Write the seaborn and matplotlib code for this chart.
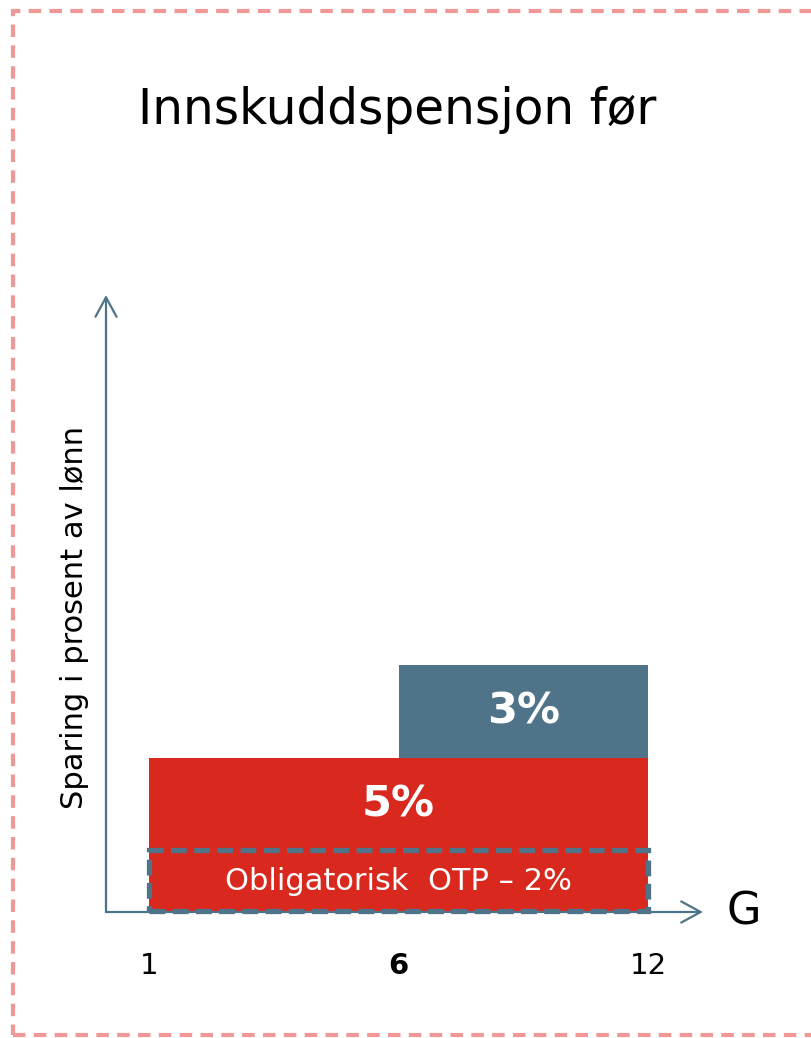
import pandas as pd
import matplotlib.pyplot as plt
import seaborn as sns
from matplotlib.patches import Rectangle, FancyArrowPatch

# data
g_labels = ["1", "6", "12"]            # G (grunnbeløp) ticks
red_pct = [5, 5]                        # 1-6 G and 6-12 G
blue_pct = [0, 3]                       # extra above 6 G
otp_pct = 2                             # obligatorisk OTP part of the red bar
red_label = "5%"
blue_label = "3%"
otp_label = "Obligatorisk  OTP \u2013 2%"

RED = "#D9281D"
BLUE = "#4F7489"
PINK = "#F09898"

sns.set_theme(style="white")
plt.rcParams["font.family"] = ["DejaVu Sans"]
plt.rcParams["text.color"] = "black"

# long table for histplot: one row per interval and layer
rows = []
for i, (r, b) in enumerate(zip(red_pct, blue_pct)):
    rows.append({"pos": i + 0.5, "layer": blue_label, "pct": b})
    rows.append({"pos": i + 0.5, "layer": red_label, "pct": r})
df = pd.DataFrame(rows)

fig = plt.figure(figsize=(8.12, 10.38), dpi=100)
ax = fig.add_axes([106 / 812, 126 / 1038, 597 / 812, 617 / 1038])

sns.histplot(
    data=df, x="pos", weights="pct", hue="layer",
    hue_order=[blue_label, red_label], multiple="stack",
    bins=[0, 1, 2], palette={red_label: RED, blue_label: BLUE},
    alpha=1, linewidth=0, legend=False, ax=ax,
)

ax.set_xlim(-0.172, 2.22)
ax.set_ylim(0, 20)
for s in ax.spines.values():
    s.set_visible(False)
ax.set_yticks([])
ax.set_xticks(range(len(g_labels)))
ax.set_xticklabels(g_labels, fontsize=21, color="black")
ax.get_xticklabels()[1].set_fontweight("bold")
ax.tick_params(axis="x", length=0, pad=29)
ax.set_xlabel("")
ax.set_ylabel("")
ax.text(-0.053, 0.478, "Sparing i prosent av lønn", transform=ax.transAxes,
        rotation=90, fontsize=22, ha="center", va="center")

# axis arrows
arrow_kw = dict(arrowstyle="->,head_length=0.7,head_width=0.38", mutation_scale=20,
                color=BLUE, lw=1.6, transform=ax.transAxes, clip_on=False,
                shrinkA=0, shrinkB=0)
ax.add_patch(FancyArrowPatch((0, 0), (1, 0), **arrow_kw))
ax.add_patch(FancyArrowPatch((0, 0), (0, 1), **arrow_kw))
ax.text(1.04, 0, "G", transform=ax.transAxes, fontsize=32, ha="left", va="center")

# dashed box around the mandatory part
ax.add_patch(Rectangle((0, 0.03), 2, otp_pct - 0.03, fill=False, edgecolor=BLUE,
                       lw=3.8, ls=(0, (3, 1.4)), clip_on=False, zorder=3))
ax.text(1, otp_pct / 2, otp_label, color="white", fontsize=22, ha="center", va="center")

# value labels
red_top = red_pct[0]
ax.text(1, (otp_pct + red_top) / 2 + 0.0, red_label, color="white", fontsize=31,
        fontweight="bold", ha="center", va="center")
ax.text(1.5, red_pct[1] + blue_pct[1] / 2, blue_label, color="white", fontsize=31,
        fontweight="bold", ha="center", va="center")

fig.text(397 / 812, 1 - 110 / 1038, "Innskuddspensjon før", fontsize=35,
         ha="center", va="center", color="black")

# dashed pink frame
fig.patches.append(Rectangle((13 / 812, 3 / 1038), 800 / 812, 1024 / 1038,
                             transform=fig.transFigure, fill=False, edgecolor=PINK,
                             lw=3, ls=(0, (3, 2))))

fig.savefig("out.png", dpi=100)
